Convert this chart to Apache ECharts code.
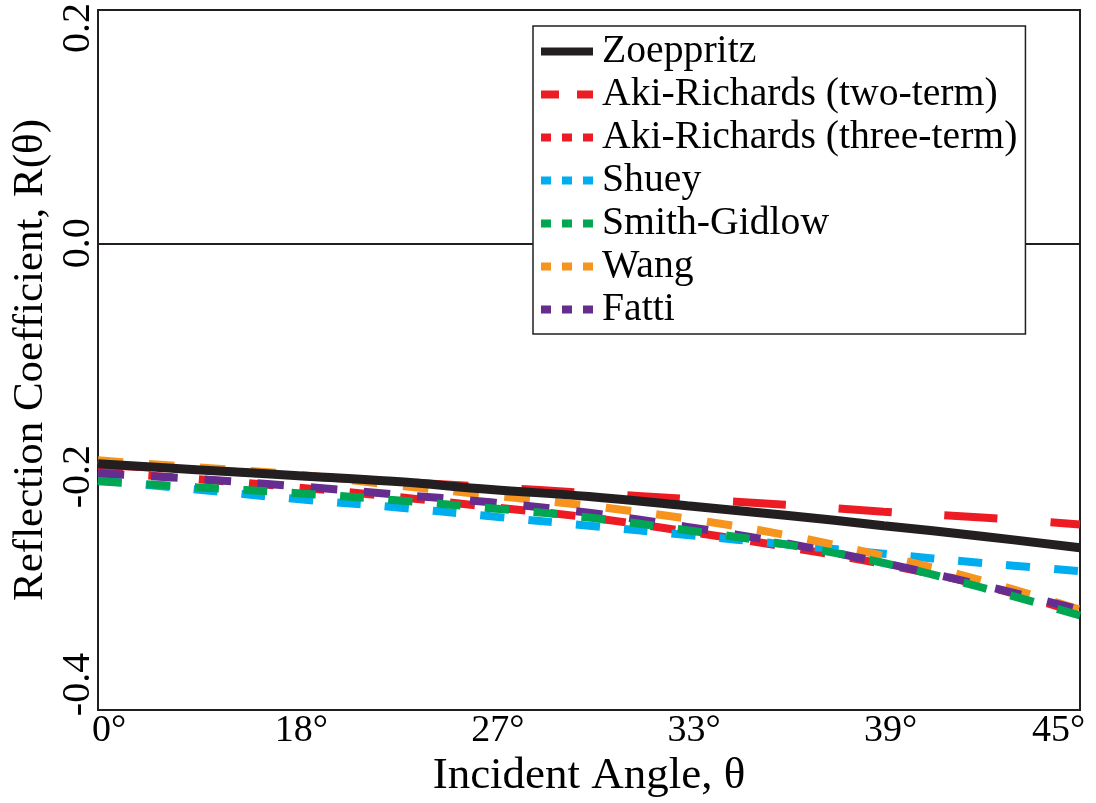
<!DOCTYPE html>
<html>
<head>
<meta charset="utf-8">
<title>Reflection coefficient approximations</title>
<script src="https://cdn.jsdelivr.net/npm/echarts@6/dist/echarts.min.js"></script>
<style>
  html, body { margin: 0; padding: 0; background: #ffffff; }
  #chart { width: 1096px; height: 803px; }
</style>
</head>
<body>
<div id="chart"></div>
<script>
// Horizontal axis is sin^2(theta); ticks are labelled with the rounded incidence angle.
const sinSq = [0, 0.05, 0.1, 0.15, 0.2, 0.25, 0.3, 0.35, 0.4, 0.45, 0.5];
const angleTickLabels = ['0°', '18°', '27°', '33°', '39°', '45°'];

// Reflection coefficient R(theta) for each method, sampled at sinSq.
const zoeppritz   = [-0.189, -0.194, -0.199, -0.204, -0.211, -0.217, -0.225, -0.233, -0.242, -0.251, -0.261];
const akiTwoTerm  = [-0.190, -0.194, -0.199, -0.204, -0.209, -0.214, -0.219, -0.224, -0.230, -0.235, -0.241];
const akiThreeTerm= [-0.196, -0.202, -0.209, -0.217, -0.226, -0.235, -0.247, -0.260, -0.275, -0.293, -0.317];
const shuey       = [-0.203, -0.211, -0.219, -0.226, -0.234, -0.242, -0.250, -0.258, -0.266, -0.274, -0.281];
const smithGidlow = [-0.204, -0.209, -0.214, -0.220, -0.227, -0.235, -0.246, -0.258, -0.274, -0.295, -0.319];
const wang        = [-0.186, -0.192, -0.198, -0.207, -0.216, -0.225, -0.236, -0.250, -0.268, -0.289, -0.314];
const fatti       = [-0.197, -0.202, -0.208, -0.215, -0.222, -0.231, -0.243, -0.257, -0.274, -0.293, -0.314];

const SERIF = "'Liberation Serif', 'Times New Roman', 'DejaVu Serif', serif";
const INK = '#231f20';

const pairs = vals => sinSq.map((s, i) => [s, vals[i]]);

// name, values, colour, width, dash in plot, dash in legend, stacking order
const methods = [
  { name: 'Zoeppritz', vals: zoeppritz, color: '#231f20', width: 9, dash: 'solid', legendDash: 'solid', z: 6 },
  { name: 'Aki-Richards (two-term)', vals: akiTwoTerm, color: '#ed1c24', width: 8, dash: [53, 53], legendDash: [18, 18], z: 2 },
  { name: 'Aki-Richards (three-term)', vals: akiThreeTerm, color: '#ed1c24', width: 8, dash: [25, 25.5], legendDash: [10, 11], z: 2 },
  { name: 'Shuey', vals: shuey, color: '#00aeef', width: 8, dash: [24, 24], legendDash: [10, 11], z: 2 },
  { name: 'Smith-Gidlow', vals: smithGidlow, color: '#00a651', width: 8, dash: [24, 24.5], legendDash: [10, 11], z: 5 },
  { name: 'Wang', vals: wang, color: '#f7941d', width: 8, dash: [25.5, 25.5], legendDash: [10, 11], z: 3 },
  { name: 'Fatti', vals: fatti, color: '#662d91', width: 8, dash: [26.5, 26.8], legendDash: [10, 11], z: 4 }
];

const series = methods.map((m, i) => {
  const s = {
    name: m.name,
    type: 'line',
    data: pairs(m.vals),
    smooth: 0.4,
    symbol: 'none',
    showSymbol: false,
    z: m.z,
    color: m.color,
    lineStyle: { color: m.color, width: m.width, type: m.dash, cap: 'butt' },
    emphasis: { disabled: true }
  };
  if (i === 1) {
    // zero reference line across the plot
    s.markLine = {
      silent: true,
      symbol: ['none', 'none'],
      label: { show: false },
      lineStyle: { color: INK, width: 2, type: 'solid' },
      emphasis: { disabled: true },
      data: [{ yAxis: 0 }]
    };
  }
  return s;
});

const chart = echarts.init(document.getElementById('chart'), null, { renderer: 'canvas' });

chart.setOption({
  animation: false,
  backgroundColor: '#ffffff',
  textStyle: { fontFamily: SERIF, color: '#000' },
  grid: {
    left: 98, right: 16, top: 10, bottom: 93,
    show: true, borderColor: INK, borderWidth: 2, backgroundColor: 'transparent',
    containLabel: false, outerBoundsMode: 'none'
  },
  xAxis: {
    type: 'value',
    min: 0, max: 0.5, interval: 0.1,
    name: 'Incident Angle, θ',
    nameLocation: 'middle',
    nameGap: 44,
    nameMoveOverlap: false,
    nameTextStyle: { fontFamily: SERIF, fontSize: 45, color: '#000' },
    axisLine: { show: false, onZero: false },
    axisTick: { show: false },
    splitLine: { show: false },
    axisLabel: {
      margin: 2,
      fontFamily: SERIF, fontSize: 38, color: '#000',
      formatter: function (v) {
        const idx = Math.round(v / 0.1);
        const txt = angleTickLabels[idx];
        if (idx === 0) return '{lo|' + txt + '}';
        if (idx === angleTickLabels.length - 1) return '{hi|' + txt + '}';
        return '{mid|' + txt + '}';
      },
      rich: {
        lo:  { fontFamily: SERIF, fontSize: 38, color: '#000', padding: [0, 0, 0, 22] },
        mid: { fontFamily: SERIF, fontSize: 38, color: '#000', padding: [0, 0, 0, 14] },
        hi:  { fontFamily: SERIF, fontSize: 38, color: '#000', padding: [0, 43, 0, 0] }
      }
    }
  },
  yAxis: {
    type: 'value',
    min: -0.4, max: 0.2, interval: 0.2,
    name: 'Reflection Coefficient, R(θ)',
    nameLocation: 'middle',
    nameGap: 46,
    nameMoveOverlap: false,
    nameRotate: 90,
    nameTextStyle: { fontFamily: SERIF, fontSize: 43, color: '#000' },
    axisLine: { show: false },
    axisTick: { show: false },
    splitLine: { show: false },
    axisLabel: {
      rotate: 90,
      margin: 0,
      fontFamily: SERIF, fontSize: 40, color: '#000',
      formatter: function (v) {
        const txt = (Math.abs(v) < 1e-9 ? 0 : v).toFixed(1);
        if (v <= -0.4 + 1e-9) return '{lo|' + txt + '}';
        if (v >= 0.2 - 1e-9) return '{hi|' + txt + '}';
        return '{mid|' + txt + '}';
      },
      rich: {
        lo:  { fontFamily: SERIF, fontSize: 40, color: '#000', padding: [0, 0, 0, 51] },
        mid: { fontFamily: SERIF, fontSize: 40, color: '#000' },
        hi:  { fontFamily: SERIF, fontSize: 40, color: '#000', padding: [0, 36, 0, 0] }
      }
    }
  },
  legend: {
    orient: 'vertical',
    left: 533,
    top: 26,
    z: 10,
    padding: [4, 8, 3, 4],
    itemGap: 0,
    itemWidth: 52,
    itemHeight: 14,
    backgroundColor: '#ffffff',
    borderColor: INK,
    borderWidth: 1.5,
    selectedMode: false,
    itemStyle: { opacity: 0, borderWidth: 0 },
    lineStyle: { width: 8 },
    textStyle: { fontFamily: SERIF, fontSize: 39.7, color: '#000', lineHeight: 43, padding: [0, 0, 0, 4] },
    data: methods.map(m => ({
      name: m.name,
      itemStyle: { opacity: 0, borderWidth: 0 },
      lineStyle: { color: m.color, width: 8, type: m.legendDash, cap: 'butt', opacity: 1 }
    }))
  },
  series: series
});
</script>
</body>
</html>
